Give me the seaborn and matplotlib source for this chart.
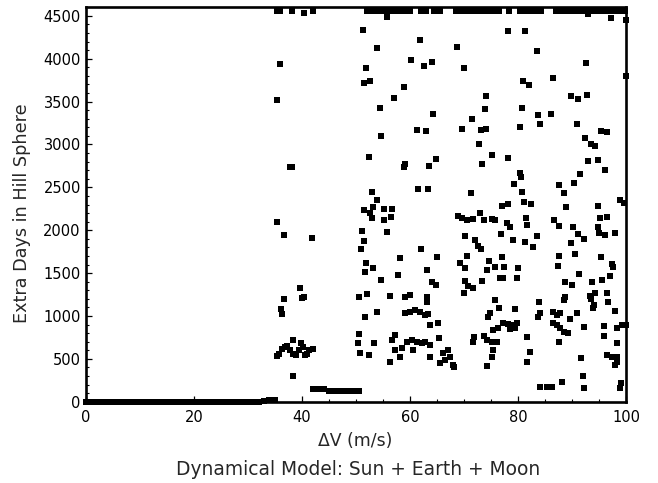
import pandas as pd
import matplotlib
matplotlib.use("Agg")
import matplotlib.pyplot as plt
from matplotlib.ticker import MultipleLocator
import seaborn as sns

# Near-zero runs for small delta-V
dv_base = [0, 1, 2, 3, 4, 5, 6, 7, 8, 9, 10, 11, 12, 13, 14, 15, 16, 17, 18,
           19, 20, 21, 22, 23, 24, 25, 26, 27, 28, 29, 30, 31, 32, 33, 34, 35]
days_base = [0, 0, 0, 0, 0, 0, 0, 0, 0, 0, 0, 0, 0, 0, 0, 0, 0, 0, 0,
             0, 0, 0, 0, 0, 0, 0, 0, 0, 0, 0, 0, 0, 0, 10, 15, 20]

# Runs that hit the end of the integration window
dv_cap = [35.3, 35.9, 38.2, 40.4, 42.1, 52, 53, 54, 55, 56, 57, 58, 59, 60, 62,
          63, 64.5, 65.5, 68.5, 69.5, 70.5, 71.5, 72.5, 73.5, 74.5, 75.5, 76.5,
          78.3, 80.3, 81.3, 82.3, 83.3, 84.3, 87, 88, 89, 90, 91, 92, 93, 94,
          95, 96, 97, 98, 99, 99.8, 55.8, 97.2, 99.9, 93.0]
days_cap = [4560, 4560, 4560, 4531, 4560, 4560, 4560, 4560, 4560, 4560, 4560,
            4560, 4560, 4560, 4560, 4560, 4560, 4560, 4560, 4560, 4560, 4560,
            4560, 4560, 4560, 4560, 4560, 4560, 4560, 4560, 4560, 4560, 4560,
            4560, 4560, 4560, 4560, 4560, 4560, 4560, 4560, 4560, 4560, 4560,
            4560, 4560, 4560, 4485, 4473, 4453, 4523]

# Transition region, 35-50 m/s
dv_low = [36.0, 35.3, 37.8, 38.1, 35.4, 36.6, 41.9, 39.7, 40.1, 40.3, 36.6,
          36.1, 36.4, 38.4, 38.4, 35.4, 35.8, 36.3, 36.8, 37.3, 37.8, 38.3,
          38.9, 39.4, 39.8, 40.2, 40.5, 41.0, 41.4, 42.0,
          42.0, 43.0, 44.0, 45.0, 46.0, 47.0, 48.0, 49.0, 50.0, 50.5]
days_low = [3936, 3516, 2742, 2742, 2093, 1941, 1906, 1323, 1204, 1225, 1195,
            1078, 1020, 720, 300, 530, 560, 620, 640, 650, 600, 560,
            540, 600, 680, 640, 540, 560, 600, 620,
            145, 145, 145, 130, 130, 130, 130, 130, 130, 130]

# 50-100 m/s, long captures
dv_a = [51.3, 53.8, 61.8, 68.7, 78.1, 81.3, 83.5, 60.2, 62.5, 64.1, 51.8, 69.9,
        92.5, 99.9, 51.4, 52.6, 58.8, 80.9, 82.0, 86.5, 57.1, 74.0, 89.8, 91.0,
        92.8, 54.4, 73.9, 80.7, 64.3, 71.4, 83.6, 84.1, 86.1, 54.6, 61.2, 62.9,
        69.6, 73.1, 74.1, 80.4, 90.9, 95.3, 96.5, 72.8, 92.4, 93.4, 94.3, 52.5,
        58.8, 59.1, 63.5, 64.8, 73.3, 75.1, 78.2, 80.3, 80.6, 92.9, 94.8, 96.1,
        79.3, 80.7, 91.4, 90.3, 87.6, 88.5, 53.0, 53.9, 53.2, 61.4, 63.3, 71.3,
        77.0, 78.2, 81.0, 82.4, 88.9, 94.8, 98.9, 99.6]
days_a = [4337, 4123, 4220, 4134, 4325, 4329, 4092, 3987, 3917, 3959, 3893, 3893,
          3952, 3800, 3714, 3741, 3668, 3741, 3691, 3773, 3539, 3563, 3567, 3535,
          3578, 3423, 3415, 3423, 3353, 3298, 3345, 3240, 3353, 3100, 3170, 3154,
          3185, 3170, 3185, 3201, 3240, 3162, 3147, 3007, 3073, 3007, 2983, 2859,
          2742, 2769, 2754, 2828, 2769, 2874, 2839, 2672, 2618, 2804, 2816, 2699,
          2540, 2450, 2653, 2548, 2528, 2439, 2450, 2353, 2275, 2482, 2478, 2439,
          2283, 2307, 2326, 2307, 2275, 2283, 2353, 2322]

# 50-100 m/s, medium captures
dv_b = [51.4, 52.6, 52.9, 55.2, 56.7, 56.4, 55.2, 68.8, 69.7, 70.6, 71.6, 72.9,
        73.7, 75.1, 75.7, 78.0, 78.4, 81.4, 81.6, 86.6, 87.6, 90.2, 95.1, 96.5,
        94.8, 95.0, 96.0, 97.9, 51.2, 55.7, 51.5, 50.9, 70.2, 72.1, 72.6, 73.2,
        76.9, 79.0, 81.2, 82.8, 83.4, 91.0, 92.2, 89.7, 62.1, 58.1, 64.9, 70.5,
        69.3, 70.2, 74.6, 75.8, 77.4, 77.0, 80.0, 79.7, 77.2, 76.6, 74.2, 73.4,
        70.2, 70.8, 71.6, 70.0, 87.5, 87.3, 90.5, 95.4, 97.3, 97.5, 91.3, 88.6,
        90.0, 93.6, 95.6, 96.9, 51.8, 53.2, 51.6, 54.6, 57.7, 63.2, 64.1, 64.8]
days_b = [2236, 2198, 2139, 2244, 2244, 2151, 2120, 2170, 2139, 2120, 2128, 2198,
          2120, 2128, 2120, 2089, 2042, 2139, 2061, 2120, 2050, 2042, 2139, 2151,
          2034, 1972, 1945, 1972, 1992, 1984, 1879, 1778, 1933, 1887, 1817, 1778,
          1956, 1887, 1859, 1801, 1937, 1953, 1894, 1855, 1778, 1672, 1692, 1700,
          1614, 1556, 1645, 1575, 1575, 1692, 1556, 1447, 1447, 1439, 1536, 1408,
          1408, 1350, 1323, 1264, 1704, 1587, 1723, 1692, 1603, 1575, 1490, 1400,
          1361, 1400, 1420, 1467, 1614, 1556, 1517, 1420, 1474, 1536, 1400, 1361]

# 50-100 m/s, around 750-1300 days
dv_c = [50.6, 52.0, 56.3, 59.1, 60.0, 63.2, 63.1, 75.8, 74.8, 74.5, 76.5, 79.4,
        83.9, 84.0, 83.7, 88.6, 88.5, 93.3, 94.3, 93.5, 96.4, 96.7, 94.1, 93.9,
        97.9, 51.6, 53.8, 59.1, 60.0, 60.9, 61.9, 62.8, 63.4, 63.7, 65.1, 86.4,
        87.2, 87.8, 89.6, 90.9, 86.4, 87.2, 87.7, 88.4, 89.3, 92.2, 95.8, 98.3,
        99.2, 100.0, 75.4, 76.3, 77.2, 78.2, 79.0, 79.7, 79.4, 78.5, 81.6]
days_c = [1225, 1257, 1233, 1225, 1245, 1225, 1167, 1186, 1031, 992, 1089, 1078,
          1167, 1031, 992, 1225, 1186, 1233, 1264, 1194, 1264, 1167, 1128, 1089,
          1058, 992, 1043, 1031, 1050, 1070, 1050, 1011, 1019, 895, 914, 1050,
          1011, 1031, 961, 1031, 914, 895, 856, 817, 798, 868, 883, 864,
          895, 895, 836, 864, 914, 906, 895, 914, 856, 844, 759]

# 50-100 m/s, short captures
dv_d = [50.6, 50.3, 50.8, 52.5, 53.4, 57.2, 56.6, 57.2, 56.3, 58.2, 58.5, 59.4,
        60.3, 61.2, 62.2, 62.8, 63.7, 60.6, 65.4, 63.7, 65.5, 66.1, 67.0, 67.3,
        67.9, 66.4, 68.2, 71.9, 71.6, 73.6, 74.2, 75.1, 76.0, 75.4, 75.1, 74.3,
        82.1, 81.7, 87.6, 91.7, 95.9, 98.2, 96.4, 97.3, 98.2, 97.9, 98.2, 84.0,
        85.4, 86.3, 88.2, 92.0, 92.2, 98.8, 99.0]
days_d = [786, 681, 564, 545, 681, 778, 720, 603, 467, 525, 622, 700,
          720, 700, 681, 700, 661, 603, 739, 525, 448, 564, 603, 525,
          428, 486, 408, 759, 700, 766, 720, 700, 700, 603, 525, 417,
          584, 467, 700, 506, 766, 681, 545, 525, 517, 428, 467, 175,
          175, 175, 234, 300, 156, 163, 214]

groups = [(dv_base, days_base), (dv_cap, days_cap), (dv_low, days_low),
          (dv_a, days_a), (dv_b, days_b), (dv_c, days_c), (dv_d, days_d)]
df = pd.concat([pd.DataFrame({"dv": x, "days": y}) for x, y in groups],
               ignore_index=True)

sns.set_theme(style="ticks")
plt.rcParams["font.family"] = ["DejaVu Sans"]

fig = plt.figure(figsize=(6.58, 4.83), dpi=100)
ax = fig.add_axes([0.1302, 0.1683, 0.8216, 0.8166])

sns.scatterplot(data=df, x="dv", y="days", marker="s", s=22, color="black",
                linewidth=0, ax=ax, clip_on=False, legend=False, zorder=3)

ax.set_xlim(0, 100)
ax.set_ylim(0, 4600)
ax.xaxis.set_major_locator(MultipleLocator(20))
ax.xaxis.set_minor_locator(MultipleLocator(5))
ax.yaxis.set_major_locator(MultipleLocator(500))
ax.yaxis.set_minor_locator(MultipleLocator(100))
ax.tick_params(which="both", direction="in", top=False, right=False,
               colors="black", labelsize=10.5)
ax.tick_params(which="major", length=4.5, width=0.9)
ax.tick_params(which="minor", length=2.2, width=0.8)
ax.tick_params(axis="x", pad=6)
ax.tick_params(axis="y", pad=3.5)
for spine in ax.spines.values():
    spine.set_linewidth(1.9)
    spine.set_color("black")

ax.set_xlabel("ΔV (m/s)", fontsize=12.4, va="center")
ax.xaxis.set_label_coords(0.498, -0.0996)
ax.set_ylabel("Extra Days in Hill Sphere", fontsize=12.7, va="center")
ax.yaxis.set_label_coords(-0.118, 0.478)

fig.text(0.544, 1 - 475 / 483, "Dynamical Model: Sun + Earth + Moon",
         ha="center", va="baseline", fontsize=13.4)

fig.savefig("out.png", dpi=100)
